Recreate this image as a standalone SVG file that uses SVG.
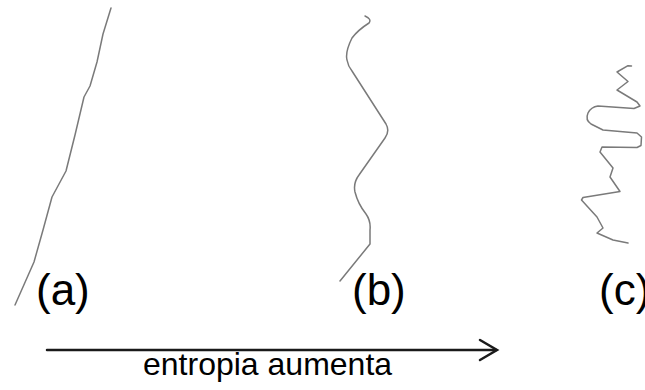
<svg xmlns="http://www.w3.org/2000/svg" width="645" height="390" viewBox="0 0 645 390">
<style>
.chain{fill:none;stroke:#7a7a7a;stroke-width:1.5;stroke-linejoin:round;stroke-linecap:round}
.lbl{font-family:"Liberation Sans",Arial,sans-serif;font-size:44px;fill:#000}
.cap{font-family:"Liberation Sans",Arial,sans-serif;font-size:32px;fill:#000}
.arr{fill:none;stroke:#1a1a1a;stroke-width:2.5;stroke-linecap:round;stroke-linejoin:miter}
</style>
<rect width="645" height="390" fill="#fff"/>
<g id="chain-a">
<polyline class="chain" points="111,8 103,34 97,62 90,86 84,97 75,135 66,171 52,197 43,230 34,262 15,305"/>
<text class="lbl" x="36" y="305">(a)</text>
</g>
<g id="chain-b">
<path class="chain" d="M365,16 Q372,19 369,23 Q358,30 352,38 Q345,52 347,60 Q348,66 352,71 L386,124 Q390,131 385,138 L359,175 Q353,183 355,192 Q358,204 366,214 Q371,221 370,230 L370,244 L340,281"/>
<text class="lbl" x="352" y="305">(b)</text>
</g>
<g id="chain-c">
<path class="chain" d="M631.5,66 L628,65.7 L617,72 L628,81.5 L617,90 L637,102 L640,106 L634,108.5 L598,106 Q591,107 588,113 Q585,120 591,124 L603,130 L637,133 L641.5,137 L641,145.5 L637,147.5 L602,147 L600,152 L613,168 L610,177 L620,191.5 L583,197.5 L581.5,200 L597,217 L603,228 L597,233 L613,240 L628,243"/>
<text class="lbl" x="599" y="305">(c)</text>
</g>
<g id="connectors">
<line class="arr" x1="47" y1="350" x2="496" y2="350"/>
<polyline class="arr" points="480,340 497,350 480,360"/>
</g>
<text class="cap" x="143" y="375">entropia aumenta</text>
</svg>
